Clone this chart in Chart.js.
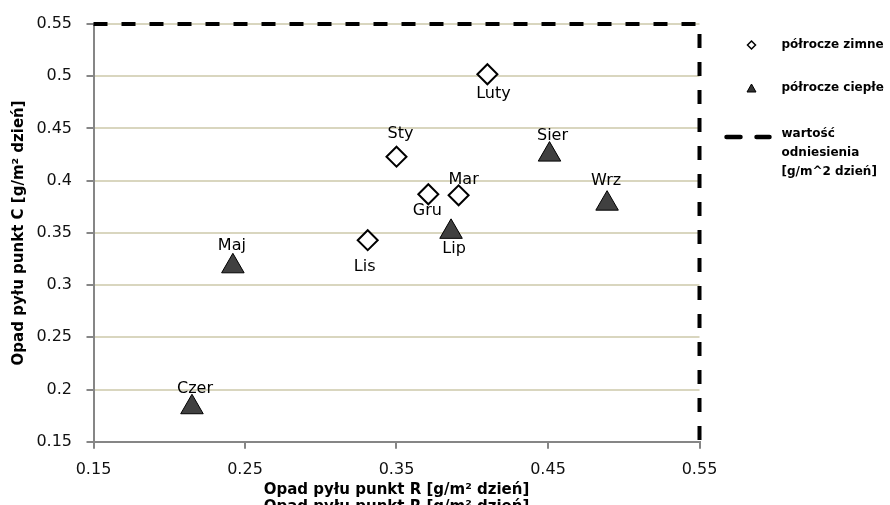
<!DOCTYPE html>
<html>
<head>
<meta charset="utf-8">
<script src="https://cdn.jsdelivr.net/npm/chart.js@4/dist/chart.umd.min.js"></script>
<style>
  html, body { margin: 0; padding: 0; background: #fff; overflow: hidden; }
  #wrap { position: relative; width: 890px; height: 520px; }
</style>
</head>
<body>
<div id="wrap"><canvas id="c"></canvas></div>
<script>
// Półrocze zimne (cold half-year)
const coldMonths = ['Sty', 'Luty', 'Mar', 'Lis', 'Gru'];
const coldR = [0.350, 0.410, 0.391, 0.331, 0.371];
const coldC = [0.423, 0.502, 0.386, 0.343, 0.387];

// Półrocze ciepłe (warm half-year)
const warmMonths = ['Maj', 'Czer', 'Lip', 'Sier', 'Wrz'];
const warmR = [0.242, 0.215, 0.386, 0.451, 0.489];
const warmC = [0.318, 0.183, 0.351, 0.425, 0.378];

// Wartość odniesienia (reference value) for both measuring points
const refValue = 0.55;
const axisMin = 0.15;

// Tick labels
const xTicks = [0.15, 0.25, 0.35, 0.45, 0.55];
const yTicks = [0.15, 0.2, 0.25, 0.3, 0.35, 0.4, 0.45, 0.5, 0.55];

const legendLabels = ['półrocze zimne', 'półrocze ciepłe', ['wartość', 'odniesienia', '[g/m^2 dzień]']];

// Placement of the month labels around each marker, in pixels [dx, dy]
const coldLabelOffsets = [[4, -23], [6, 20], [5, -15], [-3, 27], [-1, 17]];
const warmLabelOffsets = [[-1, -20], [3, -18], [3, 17], [3, -19], [-1, -23]];

const toPoints = (xs, ys) => xs.map((x, i) => ({ x: x, y: ys[i] }));

const pointLabels = {
  id: 'pointLabels',
  afterDatasetsDraw(chart) {
    const ctx = chart.ctx;
    ctx.save();
    ctx.font = '16px "DejaVu Sans"';
    ctx.fillStyle = '#000';
    ctx.textAlign = 'center';
    ctx.textBaseline = 'middle';
    chart.data.datasets.forEach((ds, di) => {
      if (!ds.monthLabels) return;
      const meta = chart.getDatasetMeta(di);
      meta.data.forEach((el, i) => {
        const [dx, dy] = ds.labelOffsets[i];
        ctx.fillText(ds.monthLabels[i], el.x + dx, el.y + dy);
      });
    });
    ctx.restore();
  }
};

const sideLegend = {
  id: 'sideLegend',
  afterDraw(chart) {
    const ctx = chart.ctx;
    const x0 = chart.chartArea.right;
    const mx = x0 + 52, tx = x0 + 82;
    ctx.save();
    // diamond
    ctx.beginPath();
    ctx.moveTo(mx, 41); ctx.lineTo(mx + 4, 45); ctx.lineTo(mx, 49); ctx.lineTo(mx - 4, 45); ctx.closePath();
    ctx.fillStyle = '#fff'; ctx.fill();
    ctx.lineWidth = 1.5; ctx.strokeStyle = '#000'; ctx.stroke();
    // triangle
    ctx.beginPath();
    ctx.moveTo(mx, 84); ctx.lineTo(mx + 4.5, 92); ctx.lineTo(mx - 4.5, 92); ctx.closePath();
    ctx.fillStyle = '#333'; ctx.fill();
    ctx.lineWidth = 1; ctx.stroke();
    // dashed line
    ctx.lineWidth = 4.5; ctx.lineCap = 'round';
    ctx.beginPath();
    ctx.moveTo(x0 + 27, 137); ctx.lineTo(x0 + 41, 137);
    ctx.moveTo(x0 + 57, 137); ctx.lineTo(x0 + 70, 137);
    ctx.stroke();
    // texts
    ctx.fillStyle = '#000';
    ctx.font = 'bold 12px "DejaVu Sans"';
    ctx.textAlign = 'left';
    ctx.textBaseline = 'middle';
    ctx.fillText(legendLabels[0], tx, 45);
    ctx.fillText(legendLabels[1], tx, 88);
    legendLabels[2].forEach((t, i) => ctx.fillText(t, tx, 134 + i * 19));
    ctx.restore();
  }
};

const fmt = v => String(Number(v.toFixed(2)));

new Chart(document.getElementById('c'), {
  type: 'scatter',
  data: {
    datasets: [
      {
        label: legendLabels[0],
        data: toPoints(coldR, coldC),
        monthLabels: coldMonths,
        labelOffsets: coldLabelOffsets,
        pointStyle: 'rectRot',
        pointRadius: 10,
        pointHoverRadius: 10,
        backgroundColor: '#ffffff',
        borderColor: '#000000',
        borderWidth: 2,
        order: 2
      },
      {
        label: legendLabels[1],
        data: toPoints(warmR, warmC),
        monthLabels: warmMonths,
        labelOffsets: warmLabelOffsets,
        pointStyle: 'triangle',
        pointRadius: 13,
        pointHoverRadius: 13,
        backgroundColor: '#404040',
        borderColor: '#000000',
        borderWidth: 1,
        order: 1
      },
      {
        label: 'wartość odniesienia',
        type: 'line',
        data: [{ x: axisMin, y: refValue }, { x: refValue, y: refValue }, { x: refValue, y: axisMin }],
        borderColor: '#000000',
        borderWidth: 4,
        borderDash: [14, 14],
        pointRadius: 0,
        fill: false,
        tension: 0,
        clip: false,
        order: 0
      }
    ]
  },
  options: {
    responsive: true,
    maintainAspectRatio: false,
    animation: false,
    events: [],
    layout: { padding: { left: 10, right: 190.5, top: 24, bottom: 0 } },
    plugins: { legend: { display: false }, tooltip: { enabled: false } },
    scales: {
      x: {
        type: 'linear',
        min: axisMin,
        max: refValue,
        afterBuildTicks: s => { s.ticks = xTicks.map(v => ({ value: v })); },
        afterFit: s => { s.height = 78.3; },
        ticks: { callback: fmt, color: '#111', font: { family: 'DejaVu Sans', size: 16 }, padding: 11.5, maxRotation: 0 },
        grid: { drawOnChartArea: false, tickColor: '#868686', tickLength: 7, lineWidth: 2 },
        border: { color: '#868686', width: 2 },
        title: {
          display: true,
          text: ['Opad pyłu punkt R [g/m² dzień]', 'Opad pyłu punkt R [g/m² dzień]'],
          color: '#000',
          font: { family: 'DejaVu Sans', size: 15, weight: 'bold', lineHeight: 1.15 },
          padding: { top: 3, bottom: 4 }
        }
      },
      y: {
        type: 'linear',
        min: axisMin,
        max: refValue,
        afterBuildTicks: s => { s.ticks = yTicks.map(v => ({ value: v })); },
        afterFit: s => { s.width = 83.5; },
        ticks: { callback: fmt, color: '#111', font: { family: 'DejaVu Sans', size: 16 }, padding: 14.5 },
        grid: { color: '#d9d6bf', lineWidth: 2, tickColor: '#868686', tickLength: 7 },
        border: { color: '#868686', width: 2 },
        title: {
          display: true,
          text: 'Opad pyłu punkt C [g/m² dzień]',
          color: '#000',
          font: { family: 'DejaVu Sans', size: 15, weight: 'bold' },
          padding: { top: 0, bottom: 8 }
        }
      }
    }
  },
  plugins: [pointLabels, sideLegend]
});
</script>
</body>
</html>
